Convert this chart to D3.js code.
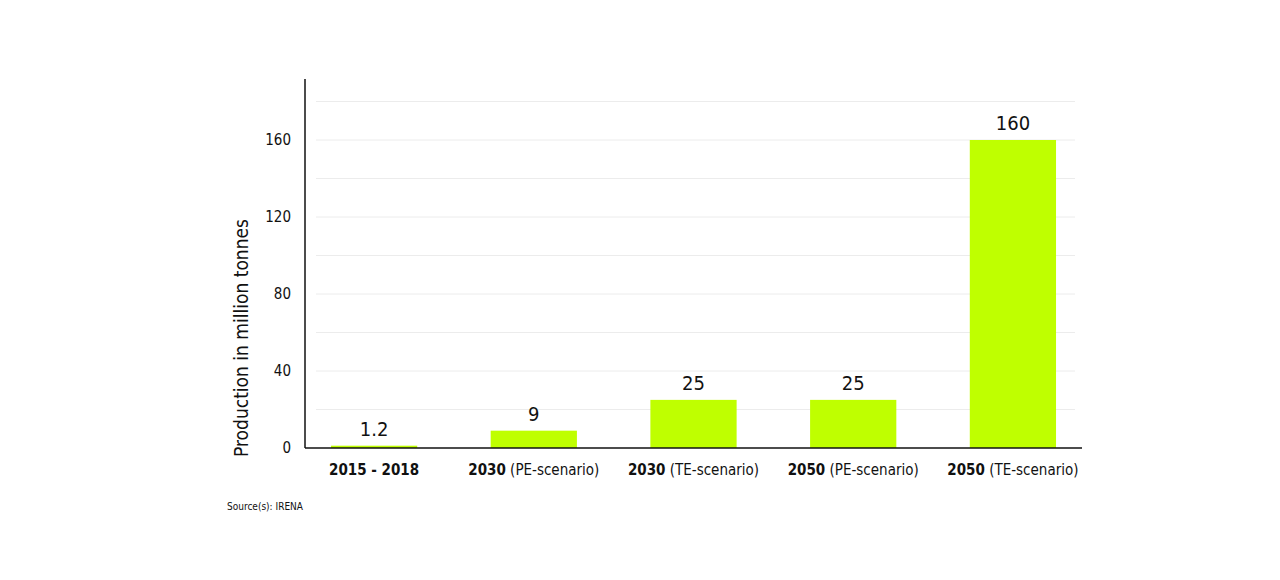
<!DOCTYPE html>
<html>
<head>
    <meta charset="utf-8">
    <script src="https://d3js.org/d3.v7.min.js"></script>
    <style>
        html, body { margin: 0; background: #fff; }
        text { font-family: "Liberation Sans Narrow", "DejaVu Sans Condensed", Roboto, sans-serif; fill: #111; }
    </style>
</head>
<body>
    <svg id="svg"></svg>
    <script>
        const years = ["2015 - 2018", "2030", "2030", "2050", "2050"];
        const scenarios = ["", "(PE-scenario)", "(TE-scenario)", "(PE-scenario)", "(TE-scenario)"];
        const values = [1.2, 9, 25, 25, 160];
        const valueLabels = ["1.2", "9", "25", "25", "160"];
        const yTicks = [0, 40, 80, 120, 160];
        const gridTicks = [20, 40, 60, 80, 100, 120, 140, 160, 180];

        const svg = d3.select("#svg").attr("width", 1280).attr("height", 580);

        const plotLeft = 305, plotRight = 1082, plotTop = 79, plotBottom = 448;

        const x = d3.scaleBand()
            .domain(d3.range(values.length))
            .range([plotLeft + 10, plotRight - 10])
            .paddingInner(0.46)
            .paddingOuter(0.1);

        const y = d3.scaleLinear().domain([0, 160]).range([plotBottom, 140]);

        // gridlines
        svg.selectAll("line.grid")
            .data(gridTicks)
            .enter()
            .append("line")
            .attr("x1", 316).attr("x2", 1075)
            .attr("y1", d => y(d)).attr("y2", d => y(d))
            .attr("stroke", "#ececec");

        // bars
        svg.selectAll("rect")
            .data(values)
            .enter()
            .append("rect")
            .attr("x", (d, i) => x(i))
            .attr("width", x.bandwidth())
            .attr("y", d => y(d))
            .attr("height", d => y(0) - y(d))
            .attr("fill", "#bfff00");

        svg.selectAll("text.val")
            .data(values)
            .enter()
            .append("text")
            .attr("x", (d, i) => x(i) + x.bandwidth() / 2)
            .attr("y", d => y(d) - 10)
            .attr("text-anchor", "middle")
            .attr("font-size", 20)
            .text((d, i) => valueLabels[i]);

        // axes
        const yAxis = svg.append("g")
            .attr("transform", `translate(${plotLeft},0)`)
            .call(d3.axisLeft(y).tickValues(yTicks).tickSize(0).tickPadding(14));
        yAxis.select(".domain").remove();
        yAxis.selectAll("text").attr("font-size", 15).style("font-family", null);
        yAxis.attr("font-family", null);

        svg.append("line").attr("x1", plotLeft).attr("x2", plotLeft).attr("y1", plotTop).attr("y2", plotBottom)
            .attr("stroke", "#111").attr("stroke-width", 1.5);
        svg.append("line").attr("x1", plotLeft).attr("x2", plotRight).attr("y1", plotBottom).attr("y2", plotBottom)
            .attr("stroke", "#111").attr("stroke-width", 1.5);

        const xl = svg.selectAll("text.cat")
            .data(values)
            .enter()
            .append("text")
            .attr("x", (d, i) => x(i) + x.bandwidth() / 2)
            .attr("y", 475)
            .attr("text-anchor", "middle")
            .attr("font-size", 15);
        xl.append("tspan").attr("font-weight", "bold").text((d, i) => years[i]);
        xl.append("tspan").text((d, i) => scenarios[i] ? " " + scenarios[i] : "");

        svg.append("text")
            .attr("transform", "translate(248,338) rotate(-90)")
            .attr("text-anchor", "middle")
            .attr("font-size", 19)
            .text("Production in million tonnes");

        svg.append("text")
            .attr("x", 227).attr("y", 510)
            .attr("font-size", 10)
            .text("Source(s): IRENA");
    </script>
</body>
</html>
